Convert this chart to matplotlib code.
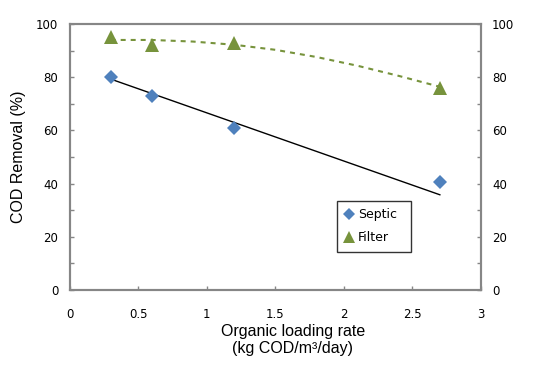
import matplotlib
matplotlib.use("Agg")
import matplotlib.pyplot as plt
from matplotlib.lines import Line2D

# Data
load_x = [0.3, 0.6, 1.2, 2.7]
septic = [80, 73, 61, 40.5]
filt = [95, 92, 93, 76]

# Trend lines
septic_trend_x = [0.3, 2.7]
septic_trend_y = [79.3, 35.8]
filter_trend_x = [0.3, 0.6, 0.9, 1.2, 1.5, 1.8, 2.1, 2.4, 2.7]
filter_trend_y = [94.0, 94.0, 93.4, 92.2, 90.3, 87.6, 84.3, 80.5, 76.4]

xticks = [0, 0.5, 1, 1.5, 2, 2.5, 3]
xticklabels = ["0", "0.5", "1", "1.5", "2", "2.5", "3"]
yticks = [0, 20, 40, 60, 80, 100]

BLUE = "#4F81BD"
GREEN = "#77933C"
SPINE = "#868686"

fig = plt.figure(figsize=(5.39, 3.67), dpi=100)
ax = fig.add_axes([0.129, 0.2098, 0.7634, 0.7248])

ax.plot(septic_trend_x, septic_trend_y, color="black", lw=1.0, zorder=2)
ax.plot(filter_trend_x, filter_trend_y, color=GREEN, lw=1.5,
        linestyle=(0, (2.4, 2.4)), zorder=2)
ax.plot(load_x, septic, linestyle="none", marker="D", ms=7,
        color=BLUE, mew=0, zorder=3)
ax.plot(load_x, filt, linestyle="none", marker="^", ms=9.5,
        color=GREEN, mew=0, zorder=3)

ax.set_xlim(0, 3)
ax.set_ylim(0, 100)
ax.set_xticks(xticks)
ax.set_xticklabels(xticklabels)
ax.set_yticks(yticks)
ax.set_yticks(range(0, 101, 10), minor=True)

for lab in ax.get_xticklabels() + ax.get_yticklabels():
    lab.set_fontfamily("DejaVu Sans")
    lab.set_fontsize(8.5)

ax.tick_params(axis="both", which="both", direction="in", color=SPINE,
               length=3, width=1)
ax.tick_params(axis="x", pad=13)
ax.tick_params(axis="y", pad=8)

for s in ax.spines.values():
    s.set_color(SPINE)
    s.set_linewidth(1.5)

ax2 = ax.twinx()
ax2.set_ylim(0, 100)
ax2.set_yticks(yticks)
ax2.set_yticks(range(0, 101, 10), minor=True)
ax2.tick_params(axis="y", which="both", direction="in", color=SPINE,
                length=3, width=1, pad=8)
for lab in ax2.get_yticklabels():
    lab.set_fontfamily("DejaVu Sans")
    lab.set_fontsize(8.5)
for s in ax2.spines.values():
    s.set_color(SPINE)
    s.set_linewidth(1.5)

ax.set_ylabel("COD Removal (%)", family="Liberation Sans", fontsize=11.5)
ax.yaxis.set_label_coords(-0.105, 0.5)
ax.set_xlabel("Organic loading rate\n(kg COD/m³/day)", family="Liberation Sans",
              fontsize=11.5, linespacing=1.2)
ax.xaxis.set_label_coords(0.543, -0.126)

handles = [
    Line2D([], [], linestyle="none", marker="D", ms=6.5, color=BLUE, mew=0),
    Line2D([], [], linestyle="none", marker="^", ms=8.5, color=GREEN, mew=0),
]
leg = ax.legend(handles, ["Septic", "Filter"], loc="lower left",
                bbox_to_anchor=(0.649, 0.143, 0.18, 0.19), mode="expand",
                prop=dict(family="DejaVu Sans", size=9),
                frameon=True, fancybox=False, edgecolor="black",
                handlelength=0.8, handletextpad=0.3, borderpad=0.6,
                labelspacing=0.8, borderaxespad=0)
leg.get_frame().set_linewidth(1.0)

fig.savefig("out.png", dpi=100)
